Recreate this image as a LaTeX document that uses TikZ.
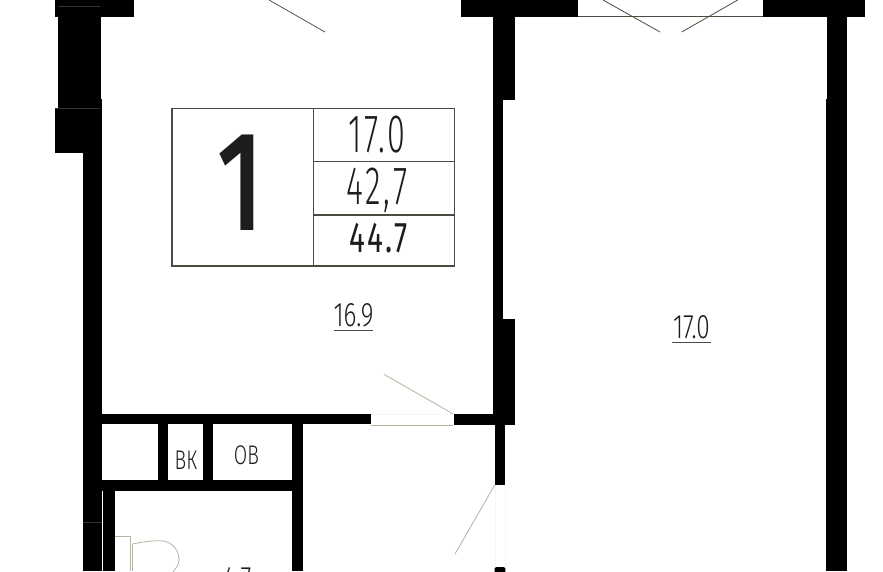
\documentclass[tikz,border=0pt]{standalone}
\usepackage{fontspec}
\setmainfont{Fira Sans}
\newfontfamily\thinfont[FakeStretch=0.6,LetterSpace=5,UprightFont={* Light}]{Fira Sans}
\newfontfamily\smallfont[FakeStretch=0.72,UprightFont={* Light}]{Fira Sans}
\newfontfamily\midfont[FakeStretch=0.69,LetterSpace=5]{Fira Sans}
\newfontfamily\bigfont[FakeStretch=0.72,UprightFont={* Medium}]{Fira Sans}
\definecolor{wallc}{HTML}{000000}
\definecolor{linec}{HTML}{4B4B40}
\definecolor{palec}{HTML}{B4B39F}
\definecolor{textc}{HTML}{1D1D1B}
\tikzset{
  wall/.style={fill=wallc,draw=none},
  wallseam/.style={draw=linec!70!black,line width=0.5pt},
  thinline/.style={draw=linec,line width=0.8pt},
  paleline/.style={draw=palec,line width=0.8pt},
  faintline/.style={draw=palec!12,line width=0.6pt},
  tableline/.style={draw=linec,line width=1.1pt},
  lbl/.style={inner sep=0pt,text=textc,anchor=center},
  ulbl/.style={draw=linec,line width=1pt}
}
\begin{document}
\begin{tikzpicture}[x=1pt,y=-1pt]
\useasboundingbox (0,0) rectangle (883,571);
% walls upper left
\fill[wall] (55,0) rectangle (134,17);
\fill[wall] (57.5,5) rectangle (101,108);
\fill[wall] (55,108) rectangle (101,153);
\fill[wall] (83,153) rectangle (102,571);
\fill[wall] (99,99) rectangle (102,153);
\draw[wallseam] (83,522) -- (102,522);
\draw[wallseam] (58,6) -- (100,6);
\draw[wallseam] (55,108) -- (100,108);
% top middle and right
\fill[wall] (460.7,0) rectangle (578,16.5);
\fill[wall] (492.7,16) rectangle (514.7,100);
\fill[wall] (492.5,99) rectangle (502.7,320);
\fill[wall] (492.7,319) rectangle (514.7,424.5);
\fill[wall] (453.5,414) rectangle (493,424.5);
\fill[wall] (494.7,424) rectangle (505.3,485);
\fill[wall,rounded corners=1.5pt] (494.7,567) rectangle (505.3,575);
\fill[wall] (763.3,0) rectangle (865,16.5);
\fill[wall] (827.3,16) rectangle (847.3,100);
\fill[wall] (826,99) rectangle (847.3,571);
% inner walls
\fill[wall] (102,414.3) rectangle (371,424.3);
\fill[wall] (158.3,424) rectangle (168.3,481);
\fill[wall] (202.7,424) rectangle (213.3,481);
\fill[wall] (292.3,424) rectangle (303.3,571);
\fill[wall] (102,480) rectangle (293,490.7);
\fill[wall] (102.7,490) rectangle (115,571);
% windows and doors
\coordinate (winL) at (578,16);
\coordinate (winR) at (763.3,16);
\draw[thinline] (winL) -- (winR);
\coordinate (swingA) at (269,0);
\coordinate (swingAe) at (325,32);
\draw[thinline] (swingA) -- (swingAe);
\coordinate (swingB) at (603,0);
\coordinate (swingBe) at (660,32);
\draw[thinline] (swingB) -- (swingBe);
\coordinate (swingC) at (737.7,0);
\coordinate (swingCe) at (681.7,32);
\draw[thinline] (swingC) -- (swingCe);
\coordinate (doorA) at (453.3,414);
\coordinate (doorAe) at (384,374.3);
\draw[paleline] (doorA) -- (doorAe);
\coordinate (doorB) at (494.7,485);
\coordinate (doorBe) at (455,554);
\draw[paleline] (doorB) -- (doorBe);
\draw[paleline] (371,425) -- (453.3,425);
\draw[faintline] (371,414.5) -- (453.3,414.5);
\draw[faintline] (495,485) -- (495,567);
\draw[faintline] (505,485) -- (505,567);
% toilet
\draw[paleline] (115,536.7) -- (130,536.7) -- (130,571);
\draw[paleline] (132.3,544) -- (132.3,571);
\draw[paleline] (132.3,544) .. controls (142,542) and (152,540.7) .. (160,540.7)
  .. controls (172,540.7) and (179,550) .. (179,560) .. controls (179,565) and (176,568) .. (173,572);
% table
\draw[tableline] (172,108.3) rectangle (454.7,266);
\draw[tableline] (313.3,108.3) -- (313.3,266);
\draw[tableline] (313.3,161.7) -- (454.7,161.7);
\draw[tableline] (313.3,215) -- (454.7,215);
\node[lbl,font=\bigfont\fontsize{142}{142}\selectfont] (bignum) at (241,183) {1};
\node[lbl,font=\thinfont\fontsize{54}{54}\selectfont] (livarea) at (377,134.5) {17.0};
\node[lbl,font=\thinfont\fontsize{54}{54}\selectfont] (totarea) at (377,190.5) {42,7};
\node[lbl,font=\midfont\fontsize{43}{43}\selectfont] (fullarea) at (378.5,238.5) {44.7};
% room labels
\node[lbl,font=\smallfont\fontsize{34}{34}\selectfont] (roomA) at (353.5,315) {16.9};
\draw[ulbl] (334,330) -- (373,330);
\node[lbl,font=\smallfont\fontsize{34}{34}\selectfont] (roomB) at (691.5,327.5) {17.0};
\draw[ulbl] (672,342) -- (711,342);
\node[lbl,font=\smallfont\fontsize{27}{27}\selectfont] (shaftA) at (186,460) {ВК};
\node[lbl,font=\smallfont\fontsize{27}{27}\selectfont] (shaftB) at (246.5,455.5) {ОВ};
\node[lbl,font=\smallfont\fontsize{34}{34}\selectfont,anchor=north] (roomC) at (237,567.5) {4.7};
\end{tikzpicture}
\end{document}
